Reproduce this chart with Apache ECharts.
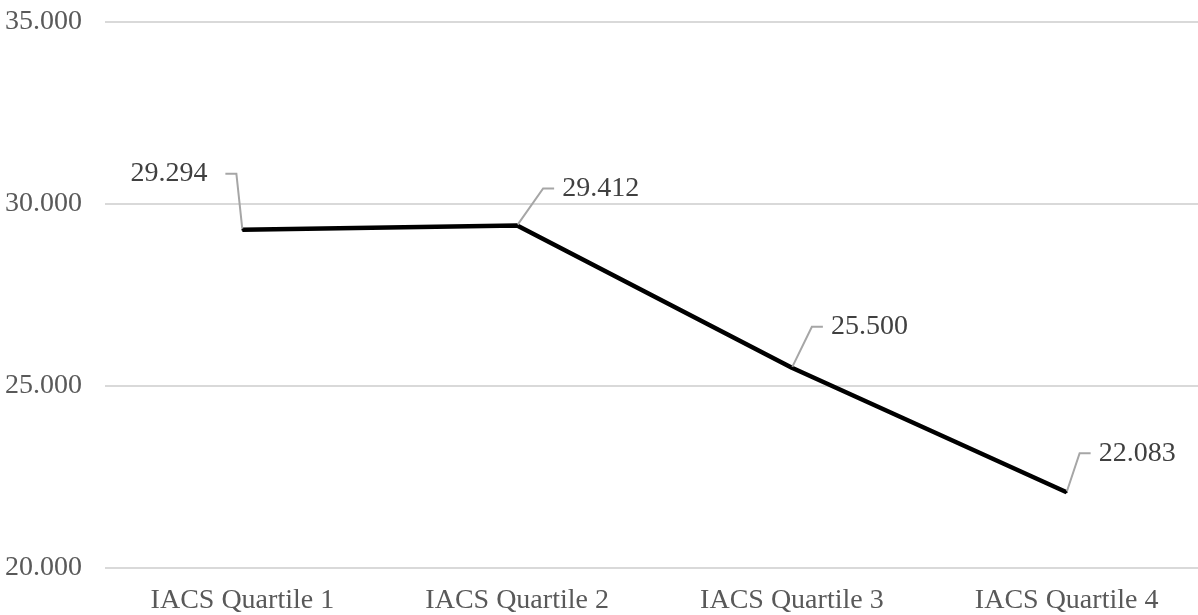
<!DOCTYPE html>
<html>
<head>
<meta charset="utf-8">
<script src="https://cdn.jsdelivr.net/npm/echarts@6/dist/echarts.min.js"></script>
<style>
  html, body { margin: 0; padding: 0; background: #ffffff; overflow: hidden; }
  /* plot area runs a few pixels past the right edge of the window */
  #chart { width: 1204px; height: 615px; }
</style>
</head>
<body>
<div id="chart"></div>
<script>
// Mean score by IACS quartile
const categories = ['IACS Quartile 1', 'IACS Quartile 2', 'IACS Quartile 3', 'IACS Quartile 4'];
const values = [29.294, 29.412, 25.500, 22.083];
const yTicks = { min: 20, max: 35, interval: 5 };

// Offsets of each value label from its point, with the side it sits on
const labelSide = ['left', 'right', 'right', 'right'];
const labelShift = [[-11, -56], [31, -37], [25, -41], [18, -39]];

const FONT = '"Liberation Serif", "Times New Roman", serif';

function fmt(v) {
  return v.toFixed(3);
}

const chart = echarts.init(document.getElementById('chart'), null, { renderer: 'canvas' });

chart.setOption({
  animation: false,
  backgroundColor: '#ffffff',
  grid: { left: 105, right: 0, top: 22, bottom: 47, containLabel: false },
  xAxis: {
    type: 'category',
    data: categories,
    boundaryGap: true,
    axisLine: { show: false },
    axisTick: { show: false },
    axisLabel: { color: '#595959', fontFamily: FONT, fontSize: 28, margin: 19 }
  },
  yAxis: {
    type: 'value',
    min: yTicks.min,
    max: yTicks.max,
    interval: yTicks.interval,
    axisLine: { show: false },
    axisTick: { show: false },
    splitLine: { lineStyle: { color: '#d9d9d9', width: 2 } },
    axisLabel: {
      color: '#595959', fontFamily: FONT, fontSize: 28, margin: 23,
      formatter: v => fmt(v)
    }
  },
  series: [{
    type: 'line',
    data: values.map((v, i) => ({
      value: v,
      label: {
        position: labelSide[i],
        padding: i === 0 ? [0, 18, 0, 0] : [0, 0, 0, 8]
      }
    })),
    symbol: 'circle',
    symbolSize: 2,
    showSymbol: true,
    itemStyle: { color: '#000000' },
    lineStyle: { color: '#000000', width: 4.5 },
    label: {
      show: true,
      color: '#404040',
      fontFamily: FONT,
      fontSize: 28,
      distance: 5,
      backgroundColor: 'rgba(255,255,255,0)',
      formatter: p => fmt(p.value)
    },
    labelLine: {
      show: true,
      length2: 11,
      smooth: false,
      lineStyle: { color: '#a6a6a6', width: 2 }
    },
    labelLayout: function (params) {
      const s = labelShift[params.dataIndex];
      return { dx: s[0], dy: s[1], hideOverlap: false, moveOverlap: false };
    }
  }]
});
</script>
</body>
</html>
